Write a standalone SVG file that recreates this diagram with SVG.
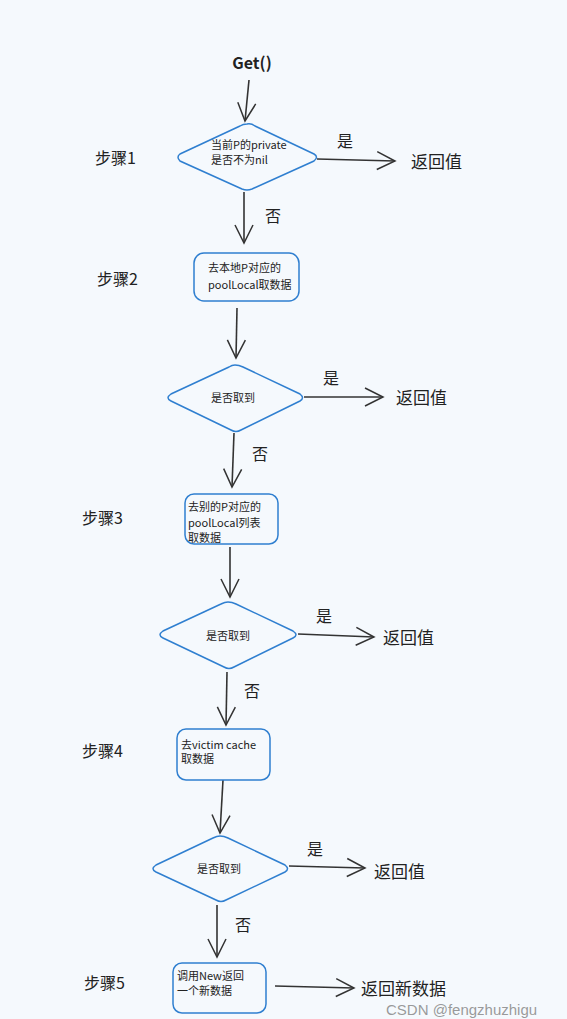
<svg xmlns="http://www.w3.org/2000/svg" width="567" height="1019" viewBox="0 0 567 1019">
<defs>
<marker id="ah" viewBox="0 0 22 22" refX="20" refY="11" markerWidth="22" markerHeight="22" markerUnits="userSpaceOnUse" orient="auto">
<path d="M2,2 L20,11 L2,20" fill="none" stroke="#333" stroke-width="1.5"/>
</marker>
<style>
.bg{fill:#f5f9fd}
.shape{fill:none;stroke:#2f7fd0;stroke-width:1.5}
.edge{fill:none;stroke:#333;stroke-width:1.6;marker-end:url(#ah)}
.t{font-family:"Noto Sans CJK SC","Liberation Sans",sans-serif;fill:#222}
.s{font-size:11px}
.m{font-size:16px}
.l{font-size:17px}
.wm{font-family:"Liberation Sans",sans-serif;font-size:15px;fill:#888;fill-opacity:0.85}
</style>
</defs>
<rect class="bg" x="0" y="0" width="567" height="1019"/>

<g id="connectors">
<path class="edge" d="M249,80 L245,121"/>
<path class="edge" d="M317,159 L395,161"/>
<path class="edge" d="M244,192 L244,243"/>
<path class="edge" d="M237,308 L236,358"/>
<path class="edge" d="M304,397 L383,397"/>
<path class="edge" d="M234,433 L232,487"/>
<path class="edge" d="M230,547 L230,597"/>
<path class="edge" d="M298,634 L374,637"/>
<path class="edge" d="M227,672 L226,725"/>
<path class="edge" d="M223,780 L220,833"/>
<path class="edge" d="M289,866 L365,868"/>
<path class="edge" d="M217,905 L217,957"/>
<path class="edge" d="M275,986 L354,988"/>
</g>

<g id="start"><text class="t m" x="252" y="69" text-anchor="middle" font-weight="bold">Get()</text></g>

<g id="step1"><text class="t m" x="95" y="164">步骤1</text></g>
<g id="d1">
<path class="shape" d="M247,124 Q251,123 255,126 L314,154 Q319,157 314,161 L252,189 Q247,191 242,189 L180,161 Q176,157 180,154 L240,126 Q243,124 247,124 Z"/>
<text class="t s" x="211" y="149">当前P的private</text>
<text class="t s" x="211" y="164">是否不为nil</text>
</g>
<g id="y1"><text class="t m" x="345" y="147" text-anchor="middle">是</text></g>
<g id="r1"><text class="t l" x="411" y="168">返回值</text></g>
<g id="n1"><text class="t m" x="273" y="222" text-anchor="middle">否</text></g>

<g id="step2"><text class="t m" x="97" y="285">步骤2</text></g>
<g id="b2">
<rect class="shape" x="194" y="253" width="105" height="48" rx="10"/>
<text class="t s" x="208" y="272">去本地P对应的</text>
<text class="t s" x="208" y="289">poolLocal取数据</text>
</g>
<g id="d2">
<path class="shape" d="M235,365 Q239,365 243,367 L300,394 Q305,398 300,401 L241,430 Q236,433 231,430 L171,401 Q165,398 171,394 L229,367 Q232,365 235,365 Z"/>
<text class="t s" x="233" y="402" text-anchor="middle">是否取到</text>
</g>
<g id="y2"><text class="t m" x="331" y="384" text-anchor="middle">是</text></g>
<g id="r2"><text class="t l" x="396" y="404">返回值</text></g>
<g id="n2"><text class="t m" x="260" y="460" text-anchor="middle">否</text></g>

<g id="step3"><text class="t m" x="82" y="524">步骤3</text></g>
<g id="b3">
<rect class="shape" x="185" y="494" width="93" height="50" rx="9"/>
<text class="t s" x="188" y="511">去别的P对应的</text>
<text class="t s" x="188" y="527">poolLocal列表</text>
<text class="t s" x="188" y="542">取数据</text>
</g>
<g id="d3">
<path class="shape" d="M228,602 Q232,602 236,604 L293,631 Q299,635 293,638 L234,667 Q229,670 224,667 L163,638 Q157,635 163,631 L221,604 Q225,602 228,602 Z"/>
<text class="t s" x="228" y="640" text-anchor="middle">是否取到</text>
</g>
<g id="y3"><text class="t m" x="324" y="622" text-anchor="middle">是</text></g>
<g id="r3"><text class="t l" x="383" y="644">返回值</text></g>
<g id="n3"><text class="t m" x="252" y="697" text-anchor="middle">否</text></g>

<g id="step4"><text class="t m" x="82" y="757">步骤4</text></g>
<g id="b4">
<rect class="shape" x="177" y="729" width="93" height="51" rx="9"/>
<text class="t s" x="181" y="749">去victim cache</text>
<text class="t s" x="181" y="763">取数据</text>
</g>
<g id="d4">
<path class="shape" d="M220,836 Q224,836 228,838 L285,865 Q290,869 285,872 L226,900 Q221,903 216,900 L156,872 Q150,869 156,865 L213,838 Q217,836 220,836 Z"/>
<text class="t s" x="219" y="873" text-anchor="middle">是否取到</text>
</g>
<g id="y4"><text class="t m" x="315" y="855" text-anchor="middle">是</text></g>
<g id="r4"><text class="t l" x="374" y="878">返回值</text></g>
<g id="n4"><text class="t m" x="243" y="931" text-anchor="middle">否</text></g>

<g id="step5"><text class="t m" x="84" y="989">步骤5</text></g>
<g id="b5">
<rect class="shape" x="173" y="963" width="93" height="50" rx="9"/>
<text class="t s" x="177" y="980">调用New返回</text>
<text class="t s" x="177" y="995">一个新数据</text>
</g>
<g id="r5"><text class="t l" x="361" y="995">返回新数据</text></g>

<text class="wm" x="386" y="1015">CSDN @fengzhuzhigu</text>
</svg>
